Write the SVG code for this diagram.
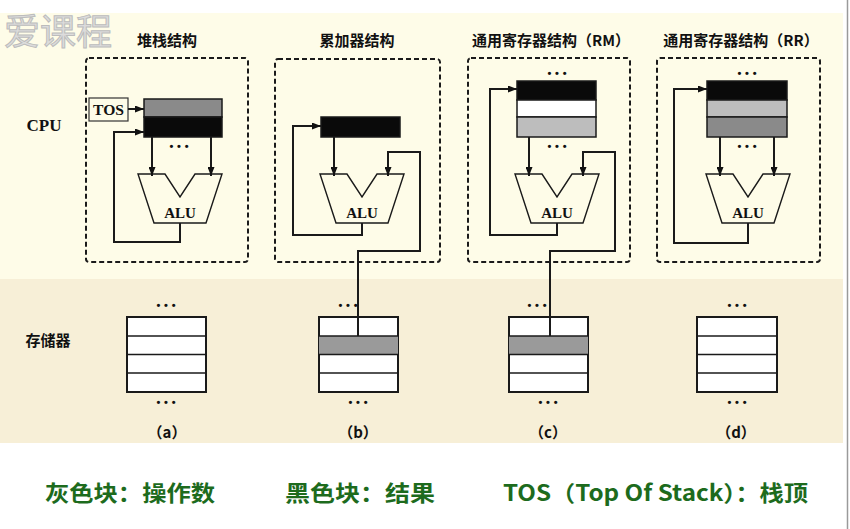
<svg xmlns="http://www.w3.org/2000/svg" width="850" height="529" viewBox="0 0 850 529">
<defs>
<marker id="ah" markerWidth="9" markerHeight="7" refX="9" refY="3.5" orient="auto" markerUnits="userSpaceOnUse">
<path d="M0,0 L9,3.5 L0,7 z" fill="#111"/>
</marker>
<style>
.dash{fill:none;stroke:#1a1a1a;stroke-width:2;stroke-dasharray:5,3}
.ln{fill:none;stroke:#1a1a1a;stroke-width:1.5}
.arr{fill:none;stroke:#1a1a1a;stroke-width:2;marker-end:url(#ah)}
.reg{stroke:#1a1a1a;stroke-width:1.5}
.alu{fill:#fefce8;stroke:#1a1a1a;stroke-width:1.4}
.mem{fill:#fff;stroke:#1a1a1a;stroke-width:2}
.row{stroke:#1a1a1a;stroke-width:1.5}
.ttl{font-family:"Noto Sans CJK SC",sans-serif;font-weight:700;font-size:15px;fill:#111;text-anchor:middle}
.lat{font-family:"Liberation Serif","Times New Roman",serif;font-weight:700;fill:#111;text-anchor:middle}
.dots{font-family:"Liberation Sans",sans-serif;font-weight:700;font-size:11px;fill:#111;text-anchor:middle}
.sub{font-family:"Noto Sans CJK SC",sans-serif;font-weight:700;font-size:15px;fill:#111;text-anchor:middle}
.leg{font-family:"Noto Sans CJK SC",sans-serif;font-weight:700;font-size:22px;fill:#1d6b1d}
</style>
</defs>
<rect width="850" height="529" fill="#ffffff"/>
<rect x="0" y="13" width="843" height="266" fill="#fefce8"/>
<rect x="0" y="279" width="843" height="164" fill="#f7efd7"/>
<line x1="847.5" y1="0" x2="847.5" y2="529" stroke="#9a9a9a" stroke-width="1.5"/>
<text x="4" y="45" font-family="Noto Sans CJK SC,sans-serif" font-size="36" fill="#dcdcdc" stroke="#bcbcbc" stroke-width="1">爱课程</text>

<text class="lat" x="44" y="131" font-size="17">CPU</text>
<text class="ttl" x="48" y="346" font-size="16">存储器</text>

<g id="panel-a">
<rect class="dash" x="86" y="58" width="162" height="204" rx="3"/>
<text class="ttl" x="167" y="46">堆栈结构</text>
<rect x="89" y="98" width="39" height="23" fill="#fefce8" stroke="#333" stroke-width="1.2"/>
<text class="lat" x="108.5" y="114.5" font-size="14" textLength="31" lengthAdjust="spacingAndGlyphs">TOS</text>
<rect class="reg" x="144" y="99" width="78" height="18" fill="#8a8a8a"/>
<rect class="reg" x="144" y="117" width="78" height="20" fill="#0a0a0a"/>
<text class="dots" x="179" y="150" textLength="19" lengthAdjust="spacing">•••</text>
<polygon class="alu" points="138,174 165,174 180,197 195,174 222,174 206,223 154,223"/>
<text class="lat" x="180" y="218" font-size="15">ALU</text>
</g>

<g id="panel-b">
<rect class="dash" x="275" y="59" width="165" height="203" rx="3"/>
<text class="ttl" x="357" y="46">累加器结构</text>
<rect class="reg" x="321" y="117" width="79" height="20" fill="#0a0a0a"/>
<polygon class="alu" points="320,174 347,174 362,197 377,174 404,174 388,223 336,223"/>
<text class="lat" x="362" y="218" font-size="15">ALU</text>
</g>

<g id="panel-c">
<rect class="dash" x="468" y="58" width="162" height="204" rx="3"/>
<text class="ttl" x="551" y="46">通用寄存器结构（RM）</text>
<text class="dots" x="557" y="77" textLength="19" lengthAdjust="spacing">•••</text>
<rect class="reg" x="517" y="81" width="79" height="19" fill="#0a0a0a"/>
<rect class="reg" x="517" y="100" width="79" height="17" fill="#ffffff"/>
<rect class="reg" x="517" y="117" width="79" height="20" fill="#bdbdbd"/>
<text class="dots" x="557" y="150" textLength="19" lengthAdjust="spacing">•••</text>
<polygon class="alu" points="515,174 542,174 557,197 572,174 599,174 583,223 531,223"/>
<text class="lat" x="557" y="218" font-size="15">ALU</text>
</g>

<g id="panel-d">
<rect class="dash" x="657" y="58" width="163" height="204" rx="3"/>
<text class="ttl" x="741" y="46">通用寄存器结构（RR）</text>
<text class="dots" x="747" y="77" textLength="19" lengthAdjust="spacing">•••</text>
<rect class="reg" x="707" y="81" width="80" height="19" fill="#0a0a0a"/>
<rect class="reg" x="707" y="100" width="80" height="17" fill="#bdbdbd"/>
<rect class="reg" x="707" y="117" width="80" height="20" fill="#8a8a8a"/>
<text class="dots" x="747" y="150" textLength="19" lengthAdjust="spacing">•••</text>
<polygon class="alu" points="706,174 733,174 748,197 763,174 790,174 774,223 722,223"/>
<text class="lat" x="748" y="218" font-size="15">ALU</text>
</g>

<g id="mem-a">
<text class="dots" x="166" y="309" textLength="19" lengthAdjust="spacing">•••</text>
<rect class="mem" x="127" y="317" width="79" height="75"/>
<line class="row" x1="127" y1="336" x2="206" y2="336"/>
<line class="row" x1="127" y1="354.5" x2="206" y2="354.5"/>
<line class="row" x1="127" y1="373" x2="206" y2="373"/>
<text class="dots" x="166" y="406" textLength="19" lengthAdjust="spacing">•••</text>
<text class="sub" x="167" y="438">（a）</text>
</g>

<g id="mem-b">
<text class="dots" x="348" y="309" textLength="19" lengthAdjust="spacing">•••</text>
<rect class="mem" x="319" y="317" width="79" height="75"/>
<rect x="319" y="336" width="79" height="18.5" fill="#9a9a9a"/>
<line class="row" x1="319" y1="336" x2="398" y2="336"/>
<line class="row" x1="319" y1="354.5" x2="398" y2="354.5"/>
<line class="row" x1="319" y1="373" x2="398" y2="373"/>
<text class="dots" x="358" y="406" textLength="19" lengthAdjust="spacing">•••</text>
<text class="sub" x="358" y="438">（b）</text>
</g>

<g id="mem-c">
<text class="dots" x="537" y="309" textLength="19" lengthAdjust="spacing">•••</text>
<rect class="mem" x="509" y="317" width="79" height="75"/>
<rect x="509" y="336" width="79" height="18.5" fill="#9a9a9a"/>
<line class="row" x1="509" y1="336" x2="588" y2="336"/>
<line class="row" x1="509" y1="354.5" x2="588" y2="354.5"/>
<line class="row" x1="509" y1="373" x2="588" y2="373"/>
<text class="dots" x="548" y="406" textLength="19" lengthAdjust="spacing">•••</text>
<text class="sub" x="548" y="438">（c）</text>
</g>

<g id="mem-d">
<text class="dots" x="737" y="309" textLength="19" lengthAdjust="spacing">•••</text>
<rect class="mem" x="697" y="317" width="80" height="75"/>
<line class="row" x1="697" y1="336" x2="777" y2="336"/>
<line class="row" x1="697" y1="354.5" x2="777" y2="354.5"/>
<line class="row" x1="697" y1="373" x2="777" y2="373"/>
<text class="dots" x="737" y="406" textLength="19" lengthAdjust="spacing">•••</text>
<text class="sub" x="736" y="438">（d）</text>
</g>

<g id="connectors">
<line class="arr" x1="128" y1="109" x2="144" y2="109"/>
<polyline class="arr" points="180,223 180,242 114,242 114,132 144,132"/>
<line class="arr" x1="152" y1="137" x2="152" y2="176"/>
<line class="arr" x1="211" y1="137" x2="211" y2="176"/>

<polyline class="arr" points="362,223 362,235 293,235 293,126 321,126"/>
<line class="arr" x1="334" y1="137" x2="334" y2="176"/>
<polyline class="arr" points="358,336 358,251 420,251 420,152 388,152 388,176"/>

<polyline class="arr" points="557,223 557,235 490,235 490,89 517,89"/>
<line class="arr" x1="529" y1="137" x2="529" y2="176"/>
<polyline class="arr" points="550,336 550,251 615,251 615,152 583,152 583,176"/>

<polyline class="arr" points="748,223 748,243 674,243 674,89 707,89"/>
<line class="arr" x1="720" y1="137" x2="720" y2="176"/>
<line class="arr" x1="774" y1="137" x2="774" y2="176"/>
</g>

<g id="legend">
<text class="leg" x="45" y="501" textLength="170" lengthAdjust="spacingAndGlyphs">灰色块：操作数</text>
<text class="leg" x="285" y="501" textLength="150" lengthAdjust="spacingAndGlyphs">黑色块：结果</text>
<text class="leg" x="503" y="501" textLength="305" lengthAdjust="spacingAndGlyphs">TOS（Top Of Stack）：栈顶</text>
</g>
</svg>
